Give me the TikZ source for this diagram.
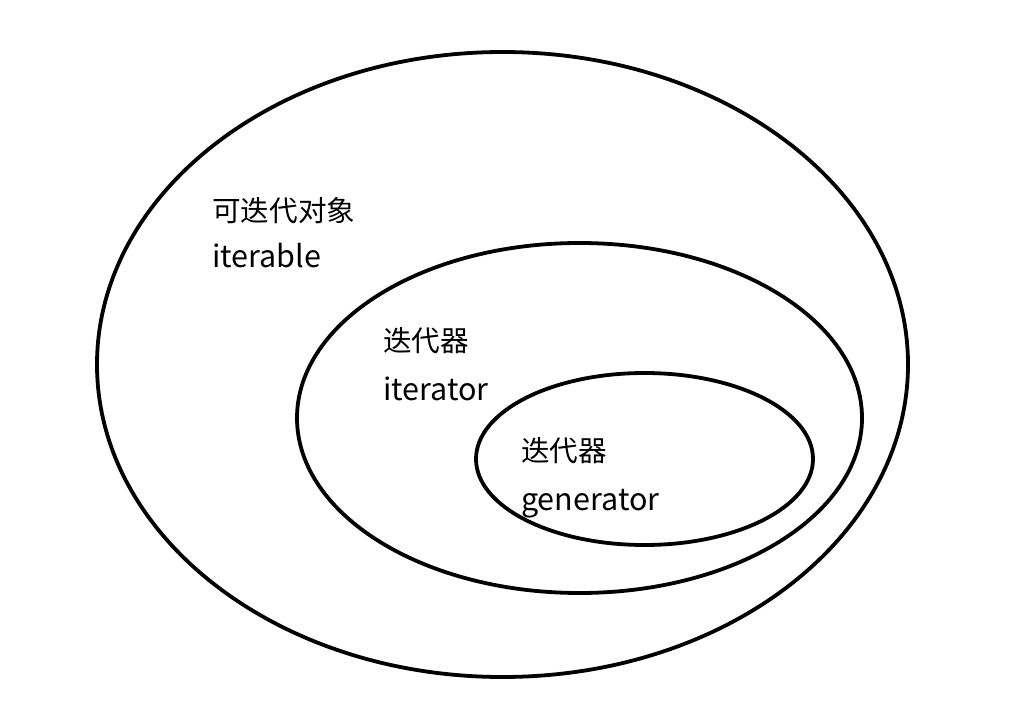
\documentclass[tikz,border=0pt]{standalone}
\usepackage{fontspec}
\setmainfont{Noto Sans CJK SC}
\begin{document}
\begin{tikzpicture}[x=1pt,y=-1pt,
  ring/.style={draw=black,line width=3.8pt},
  lbl/.style={anchor=base west,inner sep=0pt,font=\fontsize{28.6}{34}\selectfont},
  lat/.style={anchor=base west,inner sep=0pt,font=\fontsize{30.5}{36}\selectfont}]
\useasboundingbox[fill=white] (0,0) rectangle (1034,711);
\draw[ring] (502.5,364.5) ellipse [x radius=405.5, y radius=312.5];
\draw[ring] (579.5,418) ellipse [x radius=282.5, y radius=175];
\draw[ring] (644.5,459) ellipse [x radius=168.5, y radius=86];
\node[lbl] (t1) at (212,222) {可迭代对象};
\node[lat] (t2) at (212,268) {iterable};
\node[lbl] (t3) at (383,352) {迭代器};
\node[lat] (t4) at (383,401) {iterator};
\node[lbl] (t5) at (521,461) {迭代器};
\node[lat] (t6) at (521,510) {generator};
\end{tikzpicture}
\end{document}
